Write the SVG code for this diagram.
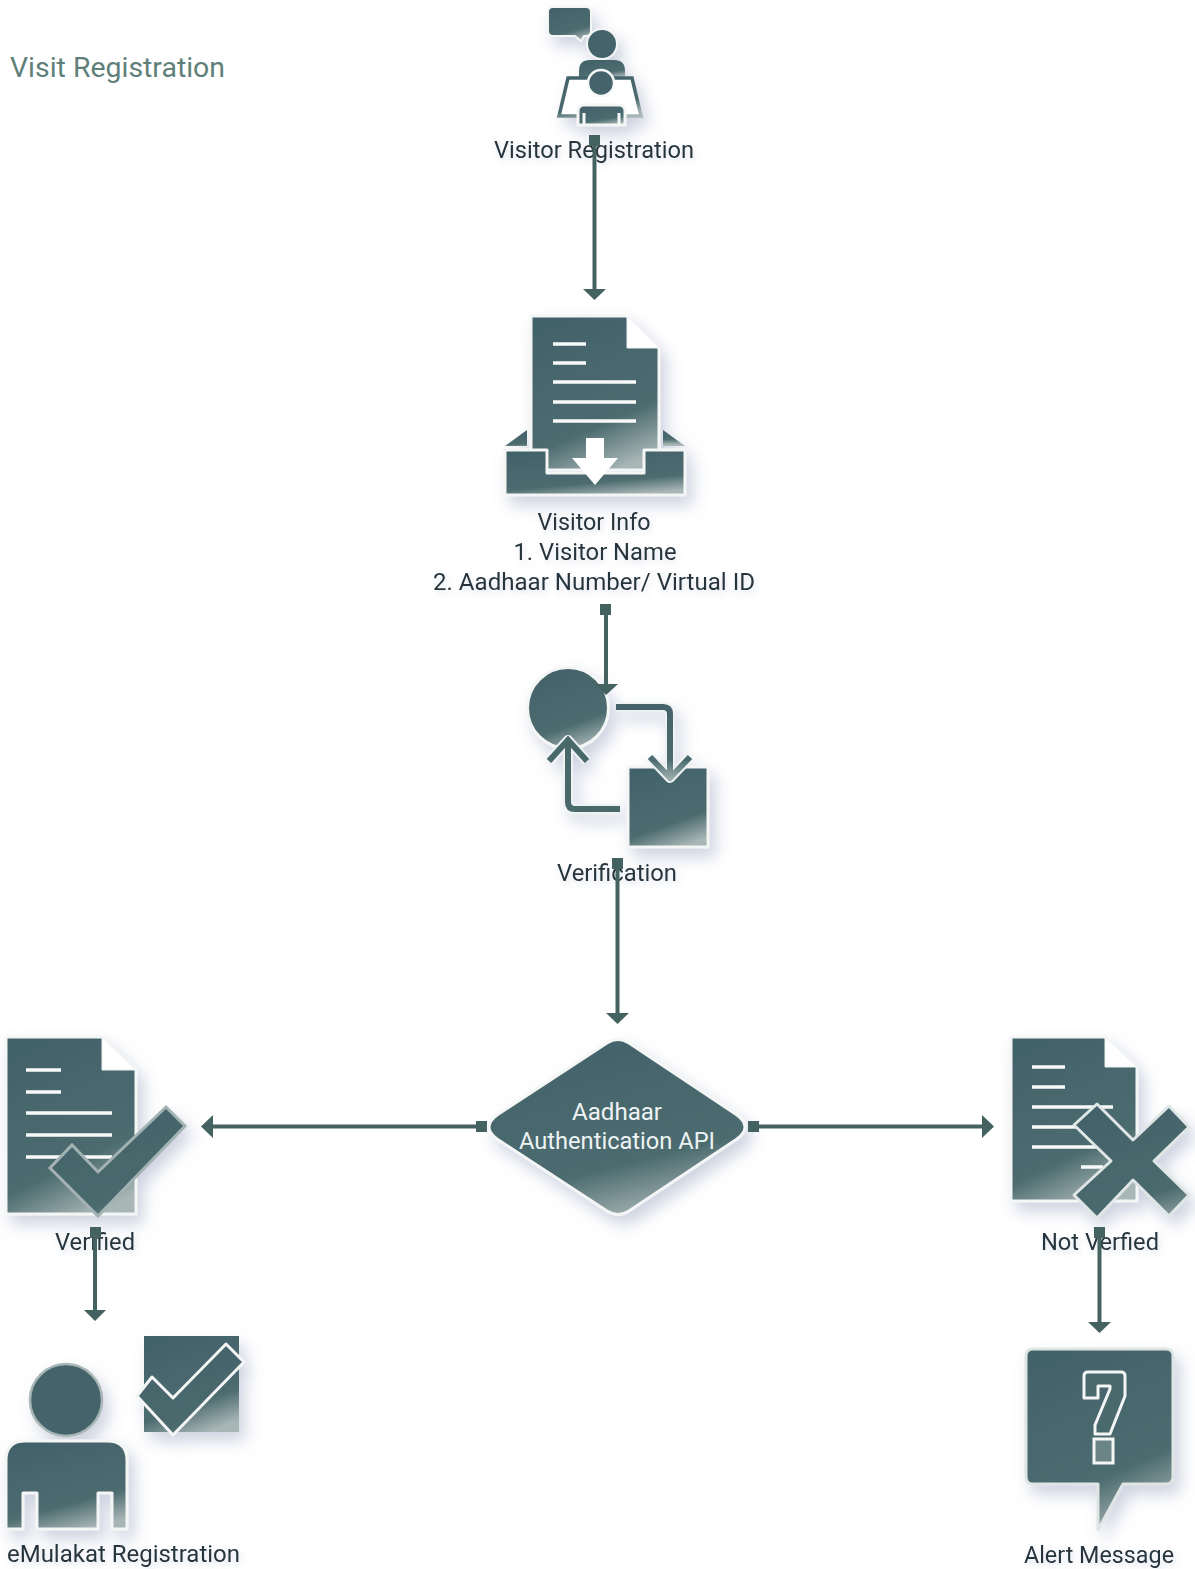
<svg xmlns="http://www.w3.org/2000/svg" width="1195" height="1569" viewBox="0 0 1195 1569">
<style>
.t{font-family:Roboto,"Liberation Sans",sans-serif;font-size:24px;fill:#27363c;text-anchor:middle}
.w{fill:#eef3f3;font-size:23px}
.h{font-family:Roboto,"Liberation Sans",sans-serif;font-size:28px;fill:#5f8079}
.f{fill:url(#g);stroke:#f4f6f6;stroke-width:3;stroke-linejoin:round}
.k{fill:url(#g2);stroke:#a3b3b3;stroke-width:3;stroke-linejoin:miter}
.x{fill:url(#g2);stroke:#dfe6e6;stroke-width:3;stroke-linejoin:round}
.l{stroke:#f8fafa;stroke-width:3.5;fill:none}
.a{fill:none;stroke:url(#a);stroke-width:6;stroke-linejoin:round}
.ah{fill:none;stroke:#eef2f2;stroke-width:10;stroke-linejoin:round}
.cn{stroke:#44625f;stroke-width:4;fill:none}
.cf{fill:#44625f}
</style>
<defs>
<linearGradient id="g" x1=".32" y1="0" x2=".68" y2="1">
<stop offset="0" stop-color="#43626a"/><stop offset=".7" stop-color="#4d6c70"/><stop offset="1" stop-color="#a9b6b6"/>
</linearGradient>
<linearGradient id="g2" x1=".32" y1="0" x2=".68" y2="1">
<stop offset="0" stop-color="#43626a"/><stop offset=".82" stop-color="#4b6a6e"/><stop offset="1" stop-color="#7d9294"/>
</linearGradient>
<linearGradient id="a" x1="0" y1="0" x2="0" y2="1">
<stop offset="0" stop-color="#44636a"/><stop offset=".75" stop-color="#4c6b6f"/><stop offset="1" stop-color="#9aabab"/>
</linearGradient>
<filter id="s" x="-20%" y="-20%" width="150%" height="150%">
<feDropShadow dx="6" dy="9" stdDeviation="8" flood-color="#7d8bb0" flood-opacity=".38"/>
</filter>
<filter id="ts" x="-10%" y="-30%" width="120%" height="170%">
<feDropShadow dx="2" dy="3" stdDeviation="3" flood-color="#8c98b8" flood-opacity=".3"/>
</filter>
</defs>

<text id="title" class="h" x="10" y="77" textLength="215" lengthAdjust="spacingAndGlyphs">Visit Registration</text>

<g id="visitor-registration">
<g filter="url(#s)">
<path class="f" style="stroke-width:2" d="M553 7H586Q591 7 591 12V31Q591 36 586 36H584L581 41 575 36H553Q548 36 548 31V12Q548 7 553 7Z"/>
<circle cx="602" cy="44" r="15" fill="#45646a" stroke="#f4f6f6" stroke-width="2"/>
<path class="f" style="stroke:none" d="M579 78V71Q579 60 590 60H614Q625 60 625 71V78Z"/>
<path d="M568 78H632L641 116H559Z" fill="#fff" stroke="url(#g)" stroke-width="3.500"/>
<circle cx="601" cy="83" r="13" fill="#45646a" stroke="#f6f8f8" stroke-width="2.500"/>
<path class="f" d="M578 125V111Q578 105 584 105H619Q625 105 625 111V125H578Z"/>
<path d="M584 125V113M619 125V113" stroke="#f6f8f8" stroke-width="3" fill="none"/>
</g>
<text class="t" x="594" y="157.500" textLength="200" lengthAdjust="spacingAndGlyphs" filter="url(#ts)">Visitor Registration</text>
</g>

<g id="visitor-info">
<g filter="url(#s)">
<path class="f" style="stroke:none" d="M505 446L527 430V446ZM685 446L663 430V446Z"/>
<path class="f" d="M531 316H627L659 348V470H531Z"/>
<path d="M627 316V348H659Z" fill="#fff" stroke="#eef1f1" stroke-width="1"/>
<path d="M553 344H586M553 363H586M553 382H636M553 402H636M553 421H636" class="l"/>
<path class="f" d="M505 450H547V473H644V450H685V495H505Z"/>
<path d="M586 438H604V458H618L595 485 572 458H586Z" fill="#fff"/>
</g>
<g filter="url(#ts)">
<text class="t" x="594" y="529.500" textLength="113" lengthAdjust="spacingAndGlyphs">Visitor Info</text>
<text class="t" x="595" y="559.500" textLength="163" lengthAdjust="spacingAndGlyphs">1. Visitor Name</text>
<text class="t" x="594" y="589.500" textLength="322" lengthAdjust="spacingAndGlyphs">2. Aadhaar Number/ Virtual ID</text>
</g>
</g>

<g id="verification">
<g filter="url(#s)">
<circle class="f" cx="568" cy="708" r="40.500"/>
<rect class="f" x="628" y="767" width="80" height="80"/>
<path class="ah" d="M616 707H663Q670 707 670 714V778M650 757L670 778 690 757"/>
<path class="a" d="M616 707H663Q670 707 670 714V778M650 757L670 778 690 757"/>
<path class="ah" d="M620 809H575Q568 809 568 802V741M549 761L568 740 587 761"/>
<path d="M620 809H575Q568 809 568 802V741M549 761L568 740 587 761" fill="none" stroke="#48676b" stroke-width="6" stroke-linejoin="miter"/>
</g>
<text class="t" x="617" y="880.500" textLength="120" lengthAdjust="spacingAndGlyphs" filter="url(#ts)">Verification</text>
</g>

<g id="aadhaar-api">
<path class="f" filter="url(#s)" d="M607 1043Q618 1036 629 1043L737 1115Q753 1127 737 1139L629 1211Q618 1218 607 1211L497 1139Q481 1127 497 1115Z"/>
<text class="t w" x="617" y="1119.500" textLength="90" lengthAdjust="spacingAndGlyphs">Aadhaar</text>
<text class="t w" x="617" y="1148.500" textLength="196" lengthAdjust="spacingAndGlyphs">Authentication API</text>
</g>

<g id="verified">
<g filter="url(#s)">
<path class="f" d="M6 1037H102L136 1070V1214H6Z"/>
<path d="M102 1037V1070H136Z" fill="#fff" stroke="#eef1f1" stroke-width="1"/>
<path d="M26 1070H61M26 1092H61M26 1113H112M26 1135H112M26 1157H112" class="l"/>
<path d="M166 1107L185 1126 98 1216 50 1168 72 1145 98 1172Z" class="k"/>
</g>
<text class="t" x="95" y="1249.500" textLength="80" lengthAdjust="spacingAndGlyphs" filter="url(#ts)">Verified</text>
</g>

<g id="not-verified">
<g filter="url(#s)">
<path class="f" d="M1011 1037H1105L1137 1067V1201H1011Z"/>
<path d="M1105 1037V1067H1137Z" fill="#fff" stroke="#eef1f1" stroke-width="1"/>
<path d="M1032 1067H1065M1032 1087H1065M1032 1107H1113M1032 1127H1113M1032 1147H1113M1081 1167H1103" class="l"/>
<path d="M1097 1104L1133 1140 1169 1106 1189 1127 1154 1161 1189 1195 1169 1216 1133 1180 1097 1218 1074 1195 1111 1161 1074 1125Z" class="x"/>
</g>
<text class="t" x="1100" y="1249.500" textLength="118" lengthAdjust="spacingAndGlyphs" filter="url(#ts)">Not Verfied</text>
</g>

<g id="emulakat-registration">
<g filter="url(#s)">
<circle cx="66" cy="1400" r="36" fill="#45646a" stroke="#a8b6b6" stroke-width="2.500"/>
<path class="f" d="M6 1529V1460Q6 1441 25 1441H107Q127 1441 127 1460V1529H112V1493H98V1529H37V1493H23V1529Z"/>
<rect x="144" y="1336" width="95" height="96" fill="url(#g)"/>
<path d="M226 1344L244 1362 173 1435 137 1396 152 1377 173 1398Z" class="x" style="stroke:#f4f6f6"/>
</g>
<text class="t" x="123.500" y="1561.500" textLength="233" lengthAdjust="spacingAndGlyphs" filter="url(#ts)">eMulakat Registration</text>
</g>

<g id="alert-message">
<g filter="url(#s)">
<path class="f" style="stroke:#dfe5e5" d="M1033 1349H1166Q1173 1349 1173 1356V1477Q1173 1484 1166 1484H1123L1098 1530V1484H1033Q1026 1484 1026 1477V1356Q1026 1349 1033 1349Z"/>
<path d="M1088 1372H1121Q1125 1372 1125 1376V1396L1110 1434H1095V1425L1110 1389V1386H1098V1398H1084V1376Q1084 1372 1088 1372Z" fill="#4a696d" stroke="#f4f6f6" stroke-width="3" stroke-linejoin="round"/>
<rect x="1094" y="1439" width="19" height="24" fill="#6a8487" stroke="#f4f6f6" stroke-width="3"/>
</g>
<text class="t" x="1099" y="1562.500" textLength="150" lengthAdjust="spacingAndGlyphs" filter="url(#ts)">Alert Message</text>
</g>

<g id="connectors">
<path class="cn" d="M594.500 140V290M606 610V686M617.500 863V1014M481 1126.500H211M753 1126.500H984M95 1232V1311M1099.500 1232V1323"/>
<path class="cf" d="M589 135h11v11h-11zM583 289H606L594.500 300ZM600 604h11v11h-11zM596 684H618L606 695ZM612 858h11v11h-11zM606 1013H629L617.500 1024ZM476 1121h11v11h-11zM213 1115V1138L201 1126.500ZM748 1121h11v11h-11zM982 1115V1138L994 1126.500ZM90 1227h11v11h-11zM84 1310H106L95 1321ZM1094 1227h11v11h-11zM1088 1322H1111L1099.500 1333Z"/>
</g>
</svg>
